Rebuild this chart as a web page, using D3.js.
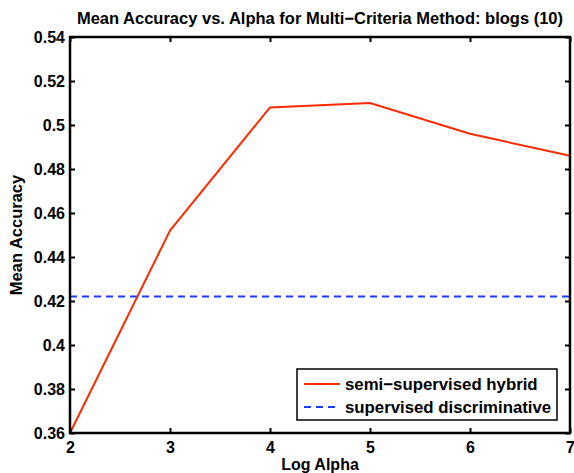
<!DOCTYPE html>
<html><head><meta charset="utf-8">
<script src="https://cdn.jsdelivr.net/npm/d3@7"></script>
<style>body{margin:0;background:#fff}svg{display:block}text{font-family:"Liberation Sans",Arial,sans-serif;font-weight:bold;fill:#000}</style>
</head><body>
<svg id="c" width="574" height="473"></svg>
<script>
const logAlpha = [2, 3, 4, 5, 6, 7];
const hybrid = [0.360, 0.452, 0.508, 0.510, 0.496, 0.486];
const discriminative = [0.422, 0.422, 0.422, 0.422, 0.422, 0.422];
const xTicks = [2, 3, 4, 5, 6, 7];
const yTicks = [0.36, 0.38, 0.40, 0.42, 0.44, 0.46, 0.48, 0.50, 0.52, 0.54];
const seriesNames = ["semi\u2212supervised hybrid", "supervised discriminative"];

const svg = d3.select("#c");
const L = 70, R = 570, T = 37, B = 433;
const x = d3.scaleLinear().domain([2, 7]).range([L, R]);
const y = d3.scaleLinear().domain([0.36, 0.54]).range([B, T]);
const fmt = d => String(+d.toFixed(2));

// data lines
const line = d3.line().x((d, i) => x(logAlpha[i])).y(d => y(d));
svg.append("path").datum(discriminative).attr("d", line)
  .attr("fill", "none").attr("stroke", "#1a3cff").attr("stroke-width", 2).attr("stroke-dasharray", "7,5");
svg.append("path").datum(hybrid).attr("d", line)
  .attr("fill", "none").attr("stroke", "#ff2a00").attr("stroke-width", 2);

// axes
const gb = svg.append("g").attr("transform", `translate(0,${B})`)
  .call(d3.axisBottom(x).tickValues(xTicks).tickSizeInner(-5).tickSizeOuter(0).tickPadding(9).tickFormat(d3.format("d")));
const gl = svg.append("g").attr("transform", `translate(${L},0)`)
  .call(d3.axisLeft(y).tickValues(yTicks).tickSizeInner(-5).tickSizeOuter(0).tickPadding(5).tickFormat(fmt));
const gt = svg.append("g").attr("transform", `translate(0,${T})`)
  .call(d3.axisTop(x).tickValues(xTicks).tickSizeInner(-5).tickSizeOuter(0).tickFormat(""));
const gr = svg.append("g").attr("transform", `translate(${R},0)`)
  .call(d3.axisRight(y).tickValues(yTicks).tickSizeInner(-5).tickSizeOuter(0).tickFormat(""));
[gb, gl, gt, gr].forEach(g => {
  g.select(".domain").remove();
  g.selectAll("line").attr("stroke", "#000").attr("stroke-width", 2);
  g.selectAll("text").style("font-size", "16px").style("font-weight", "bold").attr("fill", "#000");
});
svg.append("rect").attr("x", L).attr("y", T).attr("width", R - L).attr("height", B - T)
  .attr("fill", "none").attr("stroke", "#000").attr("stroke-width", 2.5);

// title & labels
svg.append("text").attr("x", 320).attr("y", 24).attr("text-anchor", "middle").style("font-size", "16.5px")
  .text("Mean Accuracy vs. Alpha for Multi\u2212Criteria Method: blogs (10)");
svg.append("text").attr("x", 320).attr("y", 470).attr("text-anchor", "middle").style("font-size", "16px").text("Log Alpha");
svg.append("text").attr("transform", "translate(22,235) rotate(-90)").attr("text-anchor", "middle").style("font-size", "16.5px").text("Mean Accuracy");

// legend
const lg = svg.append("g");
lg.append("rect").attr("x", 297).attr("y", 369).attr("width", 260).attr("height", 51)
  .attr("fill", "#fff").attr("stroke", "#000").attr("stroke-width", 1.5);
const colors = ["#ff2a00", "#1a3cff"], dashes = [null, "7,5"];
seriesNames.forEach((n, i) => {
  const yy = 384 + i * 23;
  lg.append("line").attr("x1", 304).attr("x2", 340).attr("y1", yy).attr("y2", yy)
    .attr("stroke", colors[i]).attr("stroke-width", 2).attr("stroke-dasharray", dashes[i]);
  lg.append("text").attr("x", 345).attr("y", yy + 6).style("font-size", "16.8px").text(n);
});
</script>
</body></html>
